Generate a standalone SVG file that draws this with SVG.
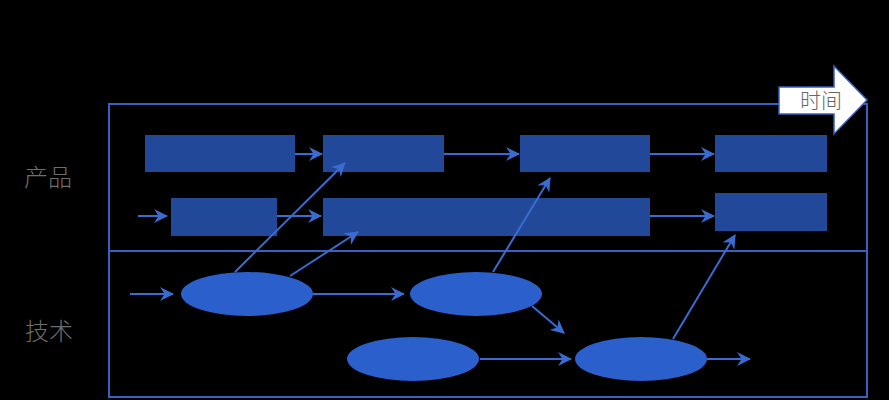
<svg xmlns="http://www.w3.org/2000/svg" width="889" height="400" viewBox="0 0 889 400">
<style>
.rect{fill:#22489a}
.ell{fill:#2a5fcc}
.frame{fill:none;stroke:#3760c0;stroke-width:2}
.conn{stroke:#3a6bd0;stroke-width:2;fill:none;marker-end:url(#ah)}
.lbl{font-family:"Noto Sans CJK SC","Noto Sans",sans-serif;fill:#6e6e6e;font-size:24px;font-weight:300}
</style>
<defs>
<marker id="ah" viewBox="0 0 14 14" refX="13" refY="7" markerWidth="14" markerHeight="14" markerUnits="userSpaceOnUse" orient="auto">
<path d="M0,0 L14,7 L0,14 L4.5,7 Z" fill="#3a6bd0"/>
</marker>
</defs>
<rect width="889" height="400" fill="#000"/>
<g id="frame">
<rect class="frame" x="109" y="104" width="758" height="293"/>
<line class="frame" x1="109" y1="251" x2="867" y2="251"/>
</g>
<g id="label-product"><text class="lbl" x="48" y="186" text-anchor="middle">产品</text></g>
<g id="label-tech"><text class="lbl" x="49" y="340" text-anchor="middle">技术</text></g>
<g id="r1"><rect class="rect" x="145" y="135" width="150" height="37"/></g>
<g id="r2"><rect class="rect" x="323" y="135" width="121" height="37"/></g>
<g id="r3"><rect class="rect" x="520" y="135" width="130" height="37"/></g>
<g id="r4"><rect class="rect" x="715" y="135" width="112" height="37"/></g>
<g id="r5"><rect class="rect" x="171" y="198" width="106" height="38"/></g>
<g id="r6"><rect class="rect" x="323" y="198" width="327" height="38"/></g>
<g id="r7"><rect class="rect" x="715" y="193" width="112" height="38"/></g>
<g id="e1"><ellipse class="ell" cx="247" cy="294" rx="66" ry="22"/></g>
<g id="e2"><ellipse class="ell" cx="476" cy="294" rx="66" ry="22"/></g>
<g id="e3"><ellipse class="ell" cx="413" cy="359" rx="66" ry="22"/></g>
<g id="e4"><ellipse class="ell" cx="641" cy="359" rx="66" ry="22"/></g>
<g id="connectors">
<line class="conn" x1="295" y1="154" x2="322" y2="154"/>
<line class="conn" x1="444" y1="154" x2="519" y2="154"/>
<line class="conn" x1="650" y1="154" x2="714" y2="154"/>
<line class="conn" x1="138" y1="216" x2="167" y2="216"/>
<line class="conn" x1="277" y1="216" x2="321" y2="216"/>
<line class="conn" x1="650" y1="216" x2="714" y2="216"/>
<line class="conn" x1="130" y1="294" x2="173" y2="294"/>
<line class="conn" x1="313" y1="294" x2="404" y2="294"/>
<line class="conn" x1="235" y1="272" x2="345" y2="163"/>
<line class="conn" x1="290" y1="276" x2="358" y2="232"/>
<line class="conn" x1="493" y1="272" x2="550" y2="178"/>
<line class="conn" x1="532" y1="306" x2="564" y2="333"/>
<line class="conn" x1="480" y1="359" x2="571" y2="359"/>
<line class="conn" x1="673" y1="339" x2="735" y2="235"/>
<line class="conn" x1="707" y1="359" x2="750" y2="359"/>
</g>
<g id="time">
<path d="M779,87 L834,87 L834,66 L867,100 L834,134 L834,114 L779,114 Z" fill="#fff" stroke="#3760c0" stroke-width="1.5"/>
<text x="821" y="108" text-anchor="middle" font-family="Noto Sans CJK SC,Noto Sans,sans-serif" font-size="21" font-weight="300" fill="#666">时间</text>
</g>
</svg>
